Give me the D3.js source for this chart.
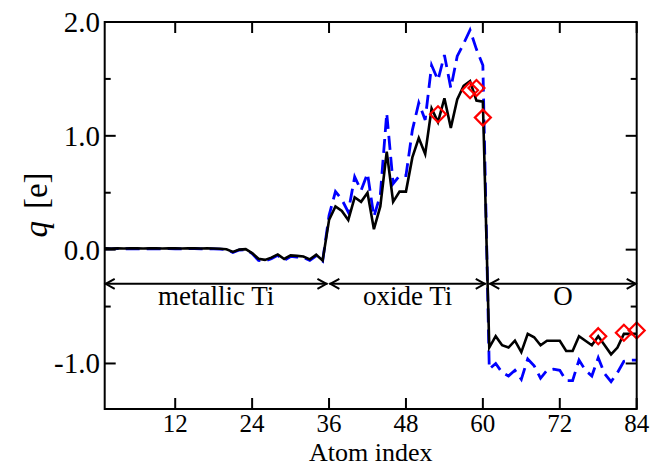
<!DOCTYPE html>
<html><head><meta charset="utf-8">
<script src="https://cdn.jsdelivr.net/npm/d3@7"></script>
<style>body{margin:0;background:#fff}svg{display:block;background:#fff}</style>
</head><body><svg id="c" width="652" height="466"></svg>
<script>
// ---- data ----
const atomIndex = d3.range(1, 85);
const chargeSolid = [
  0.012, 0.010, 0.012, 0.010, 0.012, 0.011, 0.010, 0.012, 0.011, 0.010,
  0.012, 0.011, 0.010, 0.011, 0.012, 0.010, 0.011, 0.010, 0.008, 0.004,
  -0.020, 0.000, 0.004, -0.030, -0.080, -0.090, -0.070, -0.042, -0.082, -0.050,
  -0.055, -0.060, -0.085, -0.045, -0.095,
  0.26, 0.38, 0.34, 0.26, 0.46, 0.42, 0.50, 0.18, 0.38, 0.86,
  0.42, 0.51, 0.51, 0.81, 0.98, 0.84, 1.24, 1.12, 1.33, 1.07,
  1.32, 1.44, 1.48, 1.31, 1.30,
  -0.86, -0.76, -0.84, -0.86, -0.80, -0.90, -0.74, -0.77, -0.84, -0.80,
  -0.80, -0.80, -0.89, -0.89, -0.76, -0.80, -0.84, -0.76, -0.84, -0.92,
  -0.86, -0.74, -0.74, -0.74
];
const chargeDashed = [
  0.008, 0.006, 0.009, 0.007, 0.010, 0.008, 0.006, 0.009, 0.008, 0.007,
  0.010, 0.008, 0.006, 0.009, 0.010, 0.007, 0.008, 0.006, 0.004, 0.000,
  -0.025, -0.003, 0.000, -0.035, -0.095, -0.100, -0.080, -0.050, -0.095, -0.060,
  -0.065, -0.070, -0.095, -0.055, -0.100,
  0.30, 0.51, 0.44, 0.33, 0.64, 0.52, 0.67, 0.29, 0.48, 1.20,
  0.58, 0.65, 0.65, 1.05, 1.29, 1.14, 1.62, 1.49, 1.71, 1.42,
  1.70, 1.81, 1.93, 1.76, 1.62,
  -1.05, -1.00, -1.08, -1.11, -1.06, -1.14, -0.96, -1.02, -1.13, -1.06,
  -1.05, -1.06, -1.15, -1.15, -0.97, -1.06, -1.11, -0.95, -1.09, -1.16,
  -1.08, -0.98, -0.97, -0.97
];
const refIndex = [53, 58, 59, 60, 78, 82, 84];
const refCharge = [1.19, 1.40, 1.42, 1.16, -0.76, -0.73, -0.71];
const xTicks = [12, 24, 36, 48, 60, 72, 84];
const yTicks = [-1, 0, 1, 2];
const yTickLabels = ["-1.0", "0.0", "1.0", "2.0"];
const yMinorTicks = [-0.5, 0.5, 1.5];
const regionLabels = ["metallic Ti", "oxide Ti", "O"];
const regionStart = [1, 36.05, 61.0];
const regionEnd = [35.75, 60.45, 84];
const regionArrowQ = -0.3;

// ---- layout ----
const W = 652, H = 466;
const m = {left: 104.7, right: 652 - 636.7, top: 22, bottom: 466 - 409};
const svg = d3.select("#c");
const x = d3.scaleLinear().domain([1, 84]).range([m.left, W - m.right]);
const y = d3.scaleLinear().domain([-1.4, 2.0]).range([H - m.bottom, m.top]);
const FONT = "'Liberation Serif','Times New Roman',serif";

svg.append("rect").attr("width", W).attr("height", H).attr("fill", "#fff");

// lines
const line = d3.line().x((d, i) => x(atomIndex[i])).y(d => y(d));
svg.append("path").datum(chargeDashed).attr("d", line)
  .attr("fill", "none").attr("stroke", "#0000ff").attr("stroke-width", 2.8)
  .attr("stroke-dasharray", "14,7").attr("stroke-linejoin", "miter");
svg.append("path").datum(chargeSolid).attr("d", line)
  .attr("fill", "none").attr("stroke", "#000").attr("stroke-width", 2.6)
  .attr("stroke-linejoin", "miter");

// diamonds
const ds = 8;
svg.append("g").selectAll("path").data(refIndex).join("path")
  .attr("d", (d, i) => {
    const cx = x(d), cy = y(refCharge[i]);
    return `M${cx},${cy - ds}L${cx + ds},${cy}L${cx},${cy + ds}L${cx - ds},${cy}Z`;
  })
  .attr("fill", "none").attr("stroke", "#ff0000").attr("stroke-width", 2.2);

// region arrows
const ay = y(regionArrowQ);
const rg = svg.append("g").attr("stroke", "#000").attr("stroke-width", 2).attr("fill", "none");
regionLabels.forEach((lab, i) => {
  const x0 = x(regionStart[i]), x1 = x(regionEnd[i]);
  rg.append("line").attr("x1", x0).attr("x2", x1).attr("y1", ay).attr("y2", ay);
  rg.append("path").attr("d", `M${x0 + 10},${ay - 5}L${x0 + 1},${ay}L${x0 + 10},${ay + 5}`);
  rg.append("path").attr("d", `M${x1 - 10},${ay - 5}L${x1 - 1},${ay}L${x1 - 10},${ay + 5}`);
  svg.append("text").attr("x", (x0 + x1) / 2).attr("y", ay + 21)
    .attr("text-anchor", "middle").attr("font-family", FONT).attr("font-size", 27)
    .attr("fill", "#000").text(lab);
});

// frame
svg.append("rect").attr("x", m.left).attr("y", m.top)
  .attr("width", W - m.right - m.left).attr("height", H - m.bottom - m.top)
  .attr("fill", "none").attr("stroke", "#000").attr("stroke-width", 2);

// ticks (inward, all sides)
const tk = svg.append("g").attr("stroke", "#000").attr("stroke-width", 2);
xTicks.forEach(t => {
  tk.append("line").attr("x1", x(t)).attr("x2", x(t)).attr("y1", y.range()[0]).attr("y2", y.range()[0] - 11);
  tk.append("line").attr("x1", x(t)).attr("x2", x(t)).attr("y1", y.range()[1]).attr("y2", y.range()[1] + 11);
});
yTicks.forEach(t => {
  tk.append("line").attr("x1", m.left).attr("x2", m.left + 11).attr("y1", y(t)).attr("y2", y(t));
  tk.append("line").attr("x1", W - m.right).attr("x2", W - m.right - 11).attr("y1", y(t)).attr("y2", y(t));
});
yMinorTicks.forEach(t => {
  tk.append("line").attr("x1", m.left).attr("x2", m.left + 6).attr("y1", y(t)).attr("y2", y(t));
  tk.append("line").attr("x1", W - m.right).attr("x2", W - m.right - 6).attr("y1", y(t)).attr("y2", y(t));
});

// tick labels
svg.append("g").selectAll("text").data(xTicks).join("text")
  .attr("x", d => x(d)).attr("y", 431.5).attr("text-anchor", "middle")
  .attr("font-family", FONT).attr("font-size", 25).attr("fill", "#000").text(d => d);
svg.append("g").selectAll("text").data(yTicks).join("text")
  .attr("x", 100).attr("y", d => y(d) + 10).attr("text-anchor", "end")
  .attr("font-family", FONT).attr("font-size", 29).attr("fill", "#000")
  .text((d, i) => yTickLabels[i]);

// axis titles
svg.append("text").attr("x", (m.left + W - m.right) / 2).attr("y", 460.5)
  .attr("text-anchor", "middle").attr("font-family", FONT).attr("font-size", 26)
  .attr("fill", "#000").text("Atom index");
const yl = svg.append("text").attr("transform", "translate(47,205) rotate(-90)")
  .attr("text-anchor", "middle").attr("font-family", FONT).attr("font-size", 33).attr("fill", "#000");
yl.append("tspan").attr("font-style", "italic").text("q");
yl.append("tspan").attr("dx", 12).text("[e]");
</script>
</body></html>
